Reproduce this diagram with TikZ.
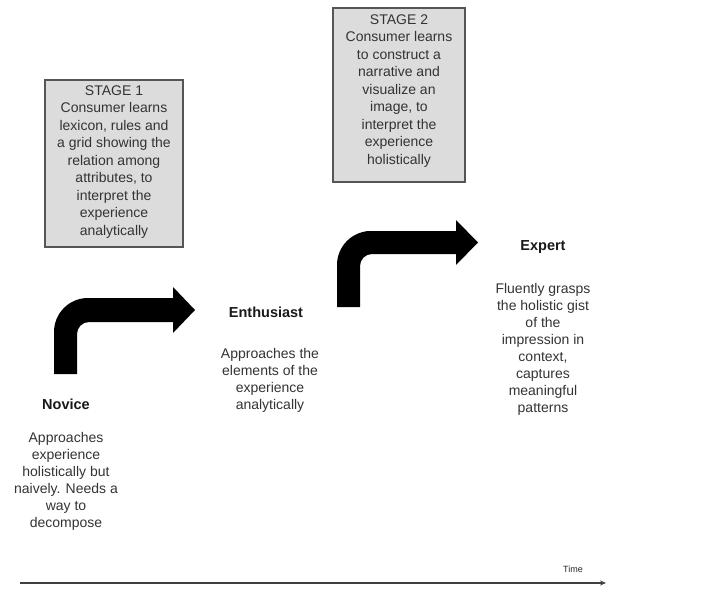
\documentclass[tikz,border=0pt]{standalone}
\usepackage{fontspec}
\setmainfont{Liberation Sans}
\usetikzlibrary{arrows.meta}
\definecolor{boxfill}{HTML}{DCDCDC}
\definecolor{boxline}{HTML}{555555}
\definecolor{bodytext}{HTML}{333333}
\begin{document}
\begin{tikzpicture}[x=1pt,y=-1pt,
  stagebox/.style={draw=boxline,line width=1.2pt,fill=boxfill,inner sep=0pt},
  stagetext/.style={align=center,inner sep=0pt,text=bodytext,font=\fontsize{14}{17.5}\selectfont},
  label/.style={inner sep=0pt,font=\fontsize{14.5}{17}\selectfont\bfseries,text=black!90},
  desc/.style={align=center,inner sep=0pt,text=bodytext,font=\fontsize{14}{17}\selectfont},
  bentarrow/.style={fill=black}]
\useasboundingbox (0,0) rectangle (726,591);

% stage boxes
\node[stagebox,minimum width=138pt,minimum height=167pt] (s1box) at (114,163.5) {};
\node[stagetext] (s1text) at (114,162) {STAGE 1\\Consumer learns\\lexicon, rules and\\a grid showing the\\relation among\\attributes, to\\interpret the\\experience\\analytically};
\node[stagebox,minimum width=132pt,minimum height=174pt] (s2box) at (399,95) {};
\node[stagetext] (s2text) at (399,91) {STAGE 2\\Consumer learns\\to construct a\\narrative and\\visualize an\\image, to\\interpret the\\experience\\holistically};

% bent arrows
\fill[bentarrow] (54,374) -- (54,345) [rounded corners=34pt] -- (54,298) -- (120,298) [sharp corners]
  -- (173,298) -- (173,287) -- (195,310) -- (173,333) -- (173,322) -- (110,322)
  [rounded corners=12pt] -- (77,322) -- (77,350) [sharp corners] -- (77,374) -- cycle;
\fill[bentarrow] (337,307) -- (337,280) [rounded corners=34pt] -- (337,231) -- (400,231) [sharp corners]
  -- (456,231) -- (456,220) -- (478,242.5) -- (456,265) -- (456,254) -- (395,254)
  [rounded corners=12pt] -- (360,254) -- (360,285) [sharp corners] -- (360,307) -- cycle;

% stages
\node[label] (novice) at (66,404) {Novice};
\node[desc] (novicetext) at (66,481) {Approaches\\experience\\holistically but\\naively. Needs a\\way to\\decompose};
\node[label] (enth) at (266,312) {Enthusiast};
\node[desc] (enthtext) at (270,380) {Approaches the\\elements of the\\experience\\analytically};
\node[label] (expert) at (543,247) {Expert};
\node[desc] (experttext) at (543,349) {Fluently grasps\\the holistic gist\\of the\\impression in\\context,\\captures\\meaningful\\patterns};

% time axis
\coordinate (t0) at (20,583);
\coordinate (t1) at (606,583);
\draw[black!75,line width=1.3pt,-{Stealth[length=6pt,width=5pt]}] (t0) -- (t1);
\node[inner sep=0pt,font=\fontsize{9}{10}\selectfont,text=black!85] (time) at (573,569) {Time};
\end{tikzpicture}
\end{document}
